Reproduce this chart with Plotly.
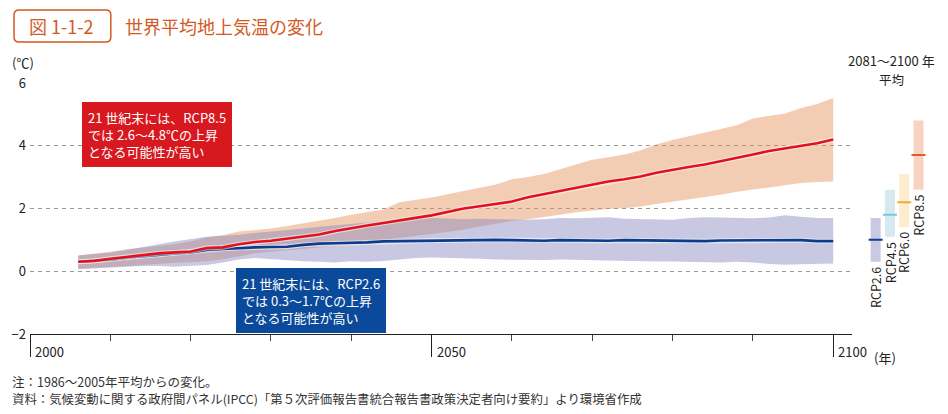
import plotly.graph_objects as go

# ---------------- data ----------------
years = list(range(2006, 2101, 2))

rcp85_mean = [0.30, 0.33, 0.40, 0.46, 0.52, 0.57, 0.60, 0.63, 0.74, 0.76,
              0.86, 0.93, 0.97, 1.04, 1.10, 1.17, 1.28, 1.38, 1.46, 1.54,
              1.61, 1.70, 1.78, 1.88, 2.00, 2.07, 2.14, 2.22, 2.36, 2.46,
              2.54, 2.64, 2.76, 2.86, 2.93, 3.02, 3.14, 3.24, 3.32, 3.40,
              3.50, 3.61, 3.72, 3.83, 3.92, 4.00, 4.08, 4.20]
rcp85_upper = [0.50, 0.55, 0.62, 0.70, 0.76, 0.82, 0.86, 0.95, 1.08, 1.15,
               1.27, 1.31, 1.36, 1.44, 1.52, 1.60, 1.70, 1.80, 1.88, 1.97,
               2.20, 2.27, 2.35, 2.45, 2.56, 2.65, 2.76, 2.93, 3.00, 3.10,
               3.25, 3.40, 3.55, 3.63, 3.72, 3.85, 4.05, 4.18, 4.30, 4.42,
               4.53, 4.65, 4.87, 4.95, 5.03, 5.20, 5.33, 5.52]
rcp85_lower = [0.08, 0.10, 0.13, 0.16, 0.20, 0.24, 0.27, 0.29, 0.32, 0.38,
               0.47, 0.57, 0.62, 0.66, 0.70, 0.76, 0.82, 0.88, 0.94, 1.00,
               1.06, 1.12, 1.18, 1.25, 1.33, 1.42, 1.52, 1.60, 1.66, 1.72,
               1.80, 1.88, 1.94, 1.98, 2.01, 2.06, 2.14, 2.21, 2.28, 2.35,
               2.44, 2.53, 2.60, 2.69, 2.75, 2.81, 2.84, 2.86]

rcp26_mean = [0.30, 0.33, 0.37, 0.43, 0.48, 0.53, 0.57, 0.60, 0.68, 0.71,
              0.74, 0.76, 0.77, 0.78, 0.84, 0.88, 0.89, 0.90, 0.92, 0.95,
              0.96, 0.97, 0.98, 0.98, 1.00, 0.99, 1.00, 0.99, 0.98, 0.97,
              0.99, 0.98, 0.97, 0.97, 0.99, 0.98, 0.97, 0.98, 0.97, 0.96,
              0.98, 0.98, 0.97, 0.98, 0.97, 0.99, 0.96, 0.96]
rcp26_upper = [0.50, 0.54, 0.60, 0.68, 0.78, 0.86, 0.95, 1.02, 1.10, 1.13,
               1.16, 1.22, 1.26, 1.30, 1.36, 1.42, 1.47, 1.52, 1.56, 1.60,
               1.63, 1.66, 1.70, 1.68, 1.66, 1.67, 1.66, 1.65, 1.64, 1.66,
               1.70, 1.69, 1.70, 1.72, 1.67, 1.66, 1.65, 1.64, 1.70, 1.72,
               1.71, 1.70, 1.69, 1.71, 1.78, 1.74, 1.70, 1.70]
rcp26_lower = [0.06, 0.08, 0.11, 0.14, 0.17, 0.17, 0.14, 0.18, 0.20, 0.28,
               0.37, 0.42, 0.38, 0.35, 0.32, 0.30, 0.28, 0.32, 0.30, 0.33,
               0.38, 0.42, 0.44, 0.43, 0.42, 0.40, 0.37, 0.36, 0.37, 0.36,
               0.37, 0.36, 0.33, 0.34, 0.31, 0.30, 0.31, 0.31, 0.30, 0.27,
               0.28, 0.30, 0.28, 0.23, 0.21, 0.22, 0.24, 0.25]

# 2081-2100 average ranges
scen_names = ["RCP2.6", "RCP4.5", "RCP6.0", "RCP8.5"]
scen_low = [0.3, 1.1, 1.4, 2.6]
scen_high = [1.7, 2.6, 3.1, 4.8]
scen_mean = [1.0, 1.8, 2.2, 3.7]

y_ticks = [-2, 0, 2, 4, 6]
x_major = [2000, 2050, 2100]

# ---------------- styles ----------------
FONT = "Noto Sans CJK JP"
ORANGE = "#d35a1f"
scen_fill = ["#c9c9e3", "#d5e9ee", "#fdeccd", "#f8d3c1"]
scen_line = ["#0b3f91", "#6fcbee", "#f2a93c", "#e55a2b"]

L, R, T, B = 28, 19, 82, 80
W, H = 948, 414
PW, PH = W - L - R, H - T - B


def px(xp):
    return (xp - L) / PW


def py(yp):
    return (H - B - yp) / PH


fig = go.Figure()

# bands
fig.add_trace(go.Scatter(x=years, y=rcp85_lower, mode="lines", line=dict(width=0),
                         hoverinfo="skip", showlegend=False))
fig.add_trace(go.Scatter(x=years, y=rcp85_upper, mode="lines", line=dict(width=0),
                         fill="tonexty", fillcolor="rgba(226,144,86,0.45)",
                         hoverinfo="skip", showlegend=False))
fig.add_trace(go.Scatter(x=years, y=rcp26_lower, mode="lines", line=dict(width=0),
                         hoverinfo="skip", showlegend=False))
fig.add_trace(go.Scatter(x=years, y=rcp26_upper, mode="lines", line=dict(width=0),
                         fill="tonexty", fillcolor="rgba(133,133,193,0.45)",
                         hoverinfo="skip", showlegend=False))

# mean lines with halo
for ys, col in [(rcp26_mean, "#0b3d8f"), (rcp85_mean, "#e3111b")]:
    fig.add_trace(go.Scatter(x=years, y=ys, mode="lines",
                             line=dict(width=4.8, color="rgba(255,255,255,0.55)"),
                             hoverinfo="skip", showlegend=False))
    fig.add_trace(go.Scatter(x=years, y=ys, mode="lines",
                             line=dict(width=2.6, color=col),
                             showlegend=False))

# right-hand range bars
fig.add_trace(go.Bar(x=scen_names, y=[h - l for h, l in zip(scen_high, scen_low)],
                     base=scen_low, marker=dict(color=scen_fill, line=dict(width=0)),
                     width=0.7, xaxis="x2", yaxis="y2", showlegend=False))
fig.add_trace(go.Scatter(x=scen_names, y=scen_mean, mode="markers",
                         marker=dict(symbol="line-ew", size=10,
                                     line=dict(width=2, color=scen_line)),
                         xaxis="x2", yaxis="y2", showlegend=False))

annotations = []
for name, lo in zip(scen_names, scen_low):
    annotations.append(dict(x=name, y=lo, xref="x2", yref="y2", text=name,
                            textangle=-90, yanchor="top", xanchor="center",
                            yshift=-4, showarrow=False, borderpad=0,
                            font=dict(family=FONT, size=12.5, color="#222")))

for xv in x_major:
    annotations.append(dict(x=xv, y=0, xref="x", yref="paper", text=str(xv),
                            xanchor="left", yanchor="top", xshift=3, yshift=-6,
                            showarrow=False, font=dict(family=FONT, size=13, color="#222")))

annotations += [
    dict(x=px(872), y=py(357), xref="paper", yref="paper", text="(年)",
         xanchor="left", yanchor="middle", showarrow=False,
         font=dict(family=FONT, size=13, color="#222")),
    dict(x=px(8), y=py(62), xref="paper", yref="paper", text="(℃)",
         xanchor="left", yanchor="middle", showarrow=False,
         font=dict(family=FONT, size=13, color="#222")),
    dict(x=px(891), y=py(60), xref="paper", yref="paper", text="2081～2100 年",
         xanchor="center", yanchor="middle", showarrow=False,
         font=dict(family=FONT, size=13, color="#222")),
    dict(x=px(891), y=py(79), xref="paper", yref="paper", text="平均",
         xanchor="center", yanchor="middle", showarrow=False,
         font=dict(family=FONT, size=12.5, color="#222")),
    # title
    dict(x=px(60), y=py(26), xref="paper", yref="paper", text="図 1-1-2",
         xanchor="center", yanchor="middle", showarrow=False,
         font=dict(family=FONT, size=18, color=ORANGE)),
    dict(x=px(121), y=py(26), xref="paper", yref="paper", text="世界平均地上気温の変化",
         xanchor="left", yanchor="middle", showarrow=False,
         font=dict(family=FONT, size=18, color=ORANGE)),
    # callouts
    dict(x=px(80), y=py(102), xref="paper", yref="paper",
         text="21 世紀末には、RCP8.5<br>では 2.6～4.8℃の上昇<br>となる可能性が高い",
         xanchor="left", yanchor="top", align="left", showarrow=False,
         bgcolor="#d7181f", borderpad=6, borderwidth=0,
         font=dict(family=FONT, size=13, color="white")),
    dict(x=px(234), y=py(268), xref="paper", yref="paper",
         text="21 世紀末には、RCP2.6<br>では 0.3～1.7℃の上昇<br>となる可能性が高い",
         xanchor="left", yanchor="top", align="left", showarrow=False,
         bgcolor="#0b4a9a", borderpad=6, borderwidth=0,
         font=dict(family=FONT, size=13, color="white")),
    # notes
    dict(x=px(8), y=py(381), xref="paper", yref="paper",
         text="注：1986～2005年平均からの変化。",
         xanchor="left", yanchor="middle", showarrow=False,
         font=dict(family=FONT, size=12.5, color="#333")),
    dict(x=px(8), y=py(399), xref="paper", yref="paper",
         text="資料：気候変動に関する政府間パネル(IPCC)「第５次評価報告書統合報告書政策決定者向け要約」より環境省作成",
         xanchor="left", yanchor="middle", showarrow=False,
         font=dict(family=FONT, size=12.4, color="#333")),
]

# rounded title box
x0, x1, y0, y1, r = 12, 109, 10, 42, 5
pts = [
    ("M", x0 + r, y0), ("L", x1 - r, y0), ("Q", x1, y0, x1, y0 + r),
    ("L", x1, y1 - r), ("Q", x1, y1, x1 - r, y1), ("L", x0 + r, y1),
    ("Q", x0, y1, x0, y1 - r), ("L", x0, y0 + r), ("Q", x0, y0, x0 + r, y0),
]
path = ""
for p in pts:
    cmd, coords = p[0], p[1:]
    conv = []
    for i in range(0, len(coords), 2):
        conv.append(f"{px(coords[i]):.5f},{py(coords[i + 1]):.5f}")
    path += cmd + " " + " ".join(conv) + " "
path += "Z"

shapes = [dict(type="path", xref="paper", yref="paper", path=path,
               line=dict(color=ORANGE, width=1.5), fillcolor="rgba(0,0,0,0)")]

fig.update_layout(
    width=W, height=H,
    margin=dict(l=L, r=R, t=T, b=B),
    paper_bgcolor="white", plot_bgcolor="white",
    font=dict(family=FONT, size=13, color="#222"),
    showlegend=False,
    barmode="overlay",
    annotations=annotations,
    shapes=shapes,
    xaxis=dict(domain=[0, (852 - L) / PW], range=[2000, 2102.36],
               showgrid=False, zeroline=False,
               showline=True, linecolor="#222", linewidth=1.2,
               tickmode="array", tickvals=x_major, ticks="outside",
               ticklen=22, tickwidth=1, tickcolor="#222",
               showticklabels=False,
               minor=dict(dtick=10, tick0=2000, ticks="outside", ticklen=6,
                          tickwidth=1, tickcolor="#444", showgrid=False)),
    yaxis=dict(domain=[0, 1], range=[-2, 6.03], tickmode="array", tickvals=y_ticks,
               showgrid=True, gridcolor="#9a9a9a", gridwidth=1, griddash="4px,4px",
               zeroline=False, showline=False, ticks="", ticklabelstandoff=3,
               tickfont=dict(family=FONT, size=13, color="#222")),
    xaxis2=dict(domain=[(865 - L) / PW, 1], anchor="y2", type="category",
                categoryorder="array", categoryarray=scen_names, visible=False),
    yaxis2=dict(domain=[0, 1], anchor="x2", range=[-2, 6.03], visible=False),
)

fig.write_html("out.html", config={"displayModeBar": False},
               post_script="document.body.style.margin='0';document.body.style.overflow='hidden';")
